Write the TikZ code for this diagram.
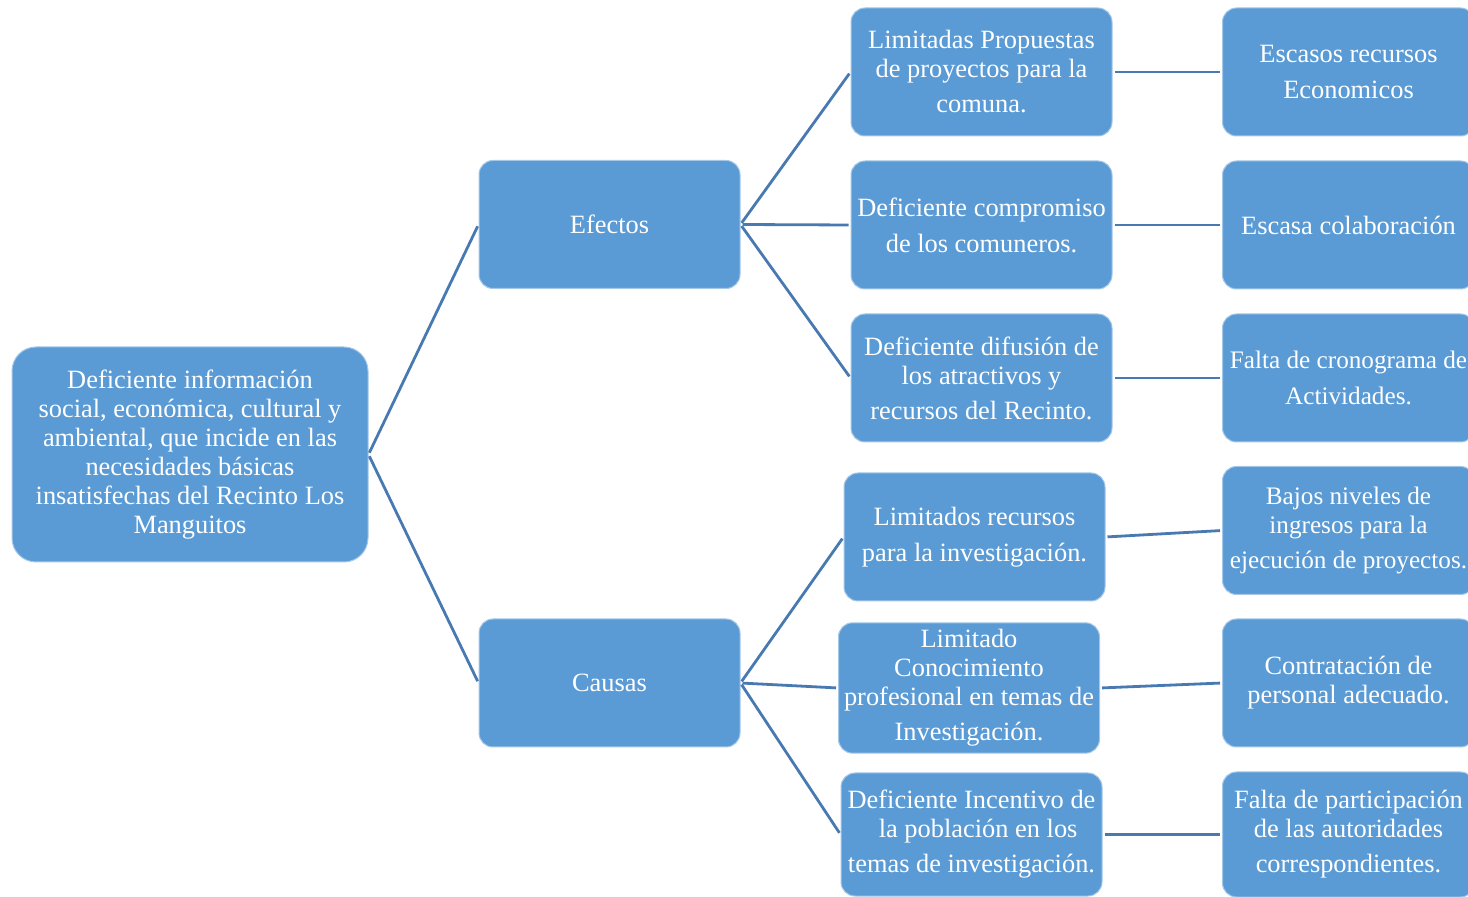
\documentclass[tikz,border=0pt]{standalone}
\usepackage{fontspec}
\setmainfont{Liberation Serif}
\definecolor{boxblue}{RGB}{91,155,213}
\definecolor{linkblue}{RGB}{72,121,176}

\begin{document}
\begin{tikzpicture}[x=0.5pt,y=-0.5pt,
  box/.style={draw=boxblue!55!white,line width=0.5pt,fill=boxblue,rounded corners=7pt,
    text=white,align=center,font=\fontsize{13.2}{14.5}\selectfont,inner xsep=1pt,
    minimum width=130.5pt,minimum height=64pt},
  endbox/.style={box,anchor=west,minimum width=126pt},
  link/.style={draw=linkblue,line width=1.4pt,shorten <=1pt,shorten >=1pt}]
\useasboundingbox (0,0) rectangle (1468,897);
\clip (0,0) rectangle (1468,897);
% problem
\node[box,minimum width=178pt,minimum height=107.5pt,rounded corners=12pt] (prob) at (190,454.5)
  {Deficiente información\\social, económica, cultural y\\ambiental, que incide en las\\necesidades básicas\\insatisfechas del Recinto Los\\Manguitos};
\node[box] (efectos) at (609.5,224.5) {Efectos};
\node[box] (causas) at (609.5,683) {Causas};
% effects
\node[box] (ef1) at (981.5,72) {Limitadas Propuestas\\de proyectos para la\\[3pt]comuna.};
\node[box] (ef2) at (981.5,225) {Deficiente compromiso\\[3.5pt]de los comuneros.};
\node[box] (ef3) at (981.5,378) {Deficiente difusión de\\los atractivos y\\[3pt]recursos del Recinto.};
\node[endbox] (fx1) at (1222,72) {Escasos recursos\\[3.5pt]Economicos};
\node[endbox] (fx2) at (1222,225) {Escasa colaboración};
\node[endbox,font=\fontsize{12.6}{14.5}\selectfont] (fx3) at (1222,378) {Falta de cronograma de\\[3.5pt]Actividades.};
% causes
\node[box] (ca1) at (974.5,537) {Limitados recursos\\[3.5pt]para la investigación.};
\node[box] (ca2) at (969,688) {Limitado\\Conocimiento\\profesional en temas de\\[3pt]Investigación.};
\node[box,minimum height=61.5pt] (ca3) at (971.5,834.5) {Deficiente Incentivo de\\\ \ la población en los\\[3pt]temas de investigación.};
\node[endbox,font=\fontsize{12.6}{14.5}\selectfont] (cx1) at (1222,530.5) {Bajos niveles de\\ingresos para la\\[3pt]ejecución de proyectos.};
\node[endbox] (cx2) at (1222,683) {Contratación de\\personal adecuado.};
\node[endbox,minimum height=62.5pt] (cx3) at (1222,834.5) {Falta de participación\\de las autoridades\\[3pt]correspondientes.};
% connectors
\foreach \a/\b in {prob/efectos,prob/causas,efectos/ef1,efectos/ef2,efectos/ef3,
    causas/ca1,causas/ca2,causas/ca3,ef1/fx1,ef2/fx2,ef3/fx3,ca1/cx1,ca2/cx2,ca3/cx3}
  {\draw[link] (\a.east) -- (\b.west);}
\end{tikzpicture}
\end{document}
